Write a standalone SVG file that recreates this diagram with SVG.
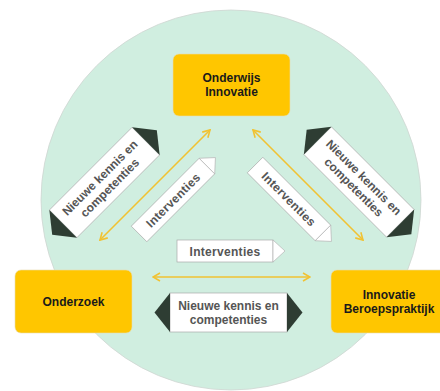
<svg xmlns="http://www.w3.org/2000/svg" width="440" height="391" viewBox="0 0 440 391">
  <defs>
    <style>
      .bg { fill: #ffffff; }
      .circle { fill: #D0EEE0; stroke: #cfd6d2; stroke-width: 0.8; }
      .box { fill: #FFC600; stroke: #e8dcb0; stroke-width: 0.6; }
      .boxtext { font-family: "Liberation Sans", Arial, sans-serif; font-weight: bold; font-size: 12px; fill: #1a1a1a; text-anchor: middle; }
      .band { fill: #ffffff; stroke: #a9a9a9; stroke-width: 0.7; }
      .head { fill: #2E3D33; }
      .tip { fill: #ffffff; stroke: #b5b5b5; stroke-width: 0.7; }
      .label { font-family: "Liberation Sans", Arial, sans-serif; font-weight: bold; font-size: 12px; fill: #555555; text-anchor: middle; stroke: #ffffff; stroke-width: 1.5px; paint-order: stroke; }
      .ilabel { letter-spacing: 0.3px; }
      .conn { stroke: #F1C232; stroke-width: 1.6; fill: none; }
    </style>
    <marker id="chev" viewBox="0 0 10 10" refX="9" refY="5" markerWidth="10" markerHeight="10" markerUnits="userSpaceOnUse" orient="auto-start-reverse">
      <path d="M2,1 L9,5 L2,9" fill="none" stroke="#F1C232" stroke-width="1.6"/>
    </marker>
    <g id="kennis">
      <rect class="band" x="-58.5" y="-19.5" width="117" height="39"/>
      <polygon class="head" points="-58.5,-19.5 -74,0 -58.5,19.5"/>
      <polygon class="head" points="58.5,-19.5 74,0 58.5,19.5"/>
      <text class="label" x="0" y="-2.5">Nieuwe kennis en</text>
      <text class="label" x="0" y="11.5">competenties</text>
    </g>
    <g id="interv">
      <rect class="band" x="-48" y="-11" width="96" height="22"/>
      <polygon class="tip" points="48,-11 60,0 48,11"/>
      <text class="label ilabel" x="0" y="4.5">Interventies</text>
    </g>
  </defs>

  <rect class="bg" x="0" y="0" width="440" height="391"/>
  <circle class="circle" cx="231" cy="200" r="190"/>

  <g id="connectors">
    <line class="conn" x1="100" y1="240" x2="210" y2="130" marker-start="url(#chev)" marker-end="url(#chev)"/>
    <line class="conn" x1="253" y1="130" x2="363" y2="240" marker-start="url(#chev)" marker-end="url(#chev)"/>
    <line class="conn" x1="153" y1="277" x2="310" y2="277" marker-start="url(#chev)" marker-end="url(#chev)"/>
  </g>

  <g id="label-kennis-left" transform="translate(104.5,182.5) rotate(-45)">
    <use href="#kennis"/>
  </g>
  <g id="label-kennis-right" transform="translate(359,182) rotate(45)">
    <use href="#kennis"/>
  </g>
  <g id="label-kennis-bottom" transform="translate(228.5,312.5)">
    <use href="#kennis"/>
  </g>

  <g id="label-interv-left" transform="translate(173,200) rotate(-45)">
    <use href="#interv"/>
  </g>
  <g id="label-interv-right" transform="translate(289,199) rotate(45)">
    <use href="#interv"/>
  </g>
  <g id="label-interv-bottom" transform="translate(225,251)">
    <use href="#interv"/>
  </g>

  <g id="node-onderwijs">
    <rect class="box" x="173" y="54" width="117" height="62" rx="6"/>
    <text class="boxtext" x="231.5" y="82">Onderwijs</text>
    <text class="boxtext" x="231.5" y="96">Innovatie</text>
  </g>
  <g id="node-onderzoek">
    <rect class="box" x="15" y="270" width="117" height="63" rx="6"/>
    <text class="boxtext" x="73.5" y="306">Onderzoek</text>
  </g>
  <g id="node-beroepspraktijk">
    <rect class="box" x="331" y="270" width="117" height="63" rx="6"/>
    <text class="boxtext" x="389" y="299">Innovatie</text>
    <text class="boxtext" x="389" y="313">Beroepspraktijk</text>
  </g>
</svg>
